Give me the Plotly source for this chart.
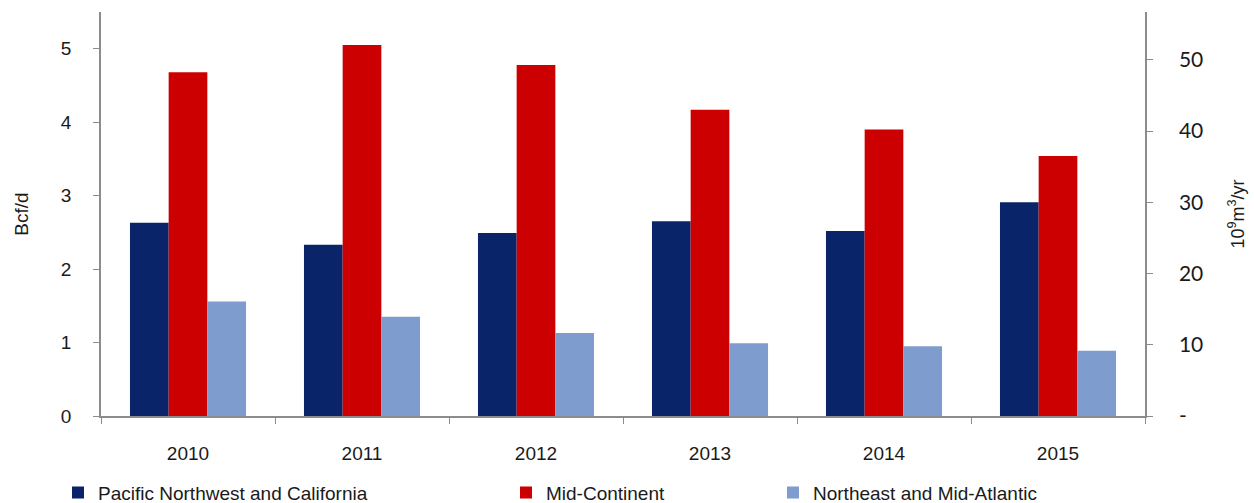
import plotly.graph_objects as go

years = ["2010", "2011", "2012", "2013", "2014", "2015"]
pacific = [2.63, 2.33, 2.49, 2.65, 2.52, 2.91]
mid_continent = [4.68, 5.05, 4.78, 4.17, 3.90, 3.54]
northeast = [1.56, 1.35, 1.13, 0.99, 0.95, 0.89]

left_ticks = [0, 1, 2, 3, 4, 5]
right_tickvals = [0, 10, 20, 30, 40, 50]
right_ticktext = ["-", "10", "20", "30", "40", "50"]
BCFD_TO_BCM = 10.31  # conversion factor between the two axes

ARIAL = "Liberation Sans, Arial, sans-serif"
AXIS_COLOR = "#8c8c8c"
TEXT_COLOR = "#1a1a1a"

fig = go.Figure()
fig.add_trace(go.Bar(x=years, y=pacific, name="Pacific Northwest and California",
                     marker=dict(color="#0a246a", line_width=0), legend="legend"))
fig.add_trace(go.Bar(x=years, y=mid_continent, name="Mid-Continent",
                     marker=dict(color="#cc0000", line_width=0), legend="legend2"))
fig.add_trace(go.Bar(x=years, y=northeast, name="Northeast and Mid-Atlantic",
                     marker=dict(color="#7f9ccf", line_width=0), legend="legend3"))
fig.add_trace(go.Scatter(x=years, y=[None] * len(years), yaxis="y2",
                         showlegend=False, hoverinfo="skip", mode="lines"))

ymax = 5.5
legend_common = dict(orientation="h", yanchor="middle", y=-0.19, xanchor="left",
                     font=dict(family=ARIAL, size=19, color=TEXT_COLOR),
                     bgcolor="rgba(0,0,0,0)", itemwidth=30)

fig.update_layout(
    width=1254, height=503,
    margin=dict(l=101, r=109, t=12, b=87, autoexpand=False),
    paper_bgcolor="white", plot_bgcolor="white",
    barmode="group", bargap=0.333, bargroupgap=0,
    font=dict(family=ARIAL, size=19, color=TEXT_COLOR),
    xaxis=dict(
        type="category", showline=True, linecolor=AXIS_COLOR, linewidth=1.5,
        ticks="outside", tickson="boundaries", ticklen=6, tickcolor=AXIS_COLOR,
        showgrid=False, ticklabelstandoff=19,
        tickfont=dict(family=ARIAL, size=19, color=TEXT_COLOR),
    ),
    yaxis=dict(
        range=[0, ymax], tickvals=left_ticks, showline=True, linecolor=AXIS_COLOR,
        linewidth=1.5, ticks="outside", ticklen=6, tickcolor=AXIS_COLOR,
        showgrid=False, zeroline=False, ticklabelstandoff=18,
        tickfont=dict(family=ARIAL, size=19, color=TEXT_COLOR),
        title=dict(text="Bcf/d", standoff=27, font=dict(family=ARIAL, size=19, color=TEXT_COLOR)),
    ),
    yaxis2=dict(
        overlaying="y", side="right", anchor="x",
        range=[0, ymax * BCFD_TO_BCM], tickvals=right_tickvals, ticktext=right_ticktext,
        showline=True, linecolor=AXIS_COLOR, linewidth=1.5, ticks="outside", ticklen=6,
        tickcolor=AXIS_COLOR, showgrid=False, zeroline=False, ticklabelstandoff=22,
        tickfont=dict(family="Lato, sans-serif", size=21, color=TEXT_COLOR),
        title=dict(text="10<sup>9</sup>m<sup>3</sup>/yr", standoff=29,
                   font=dict(family=ARIAL, size=18, color=TEXT_COLOR)),
    ),
    legend=dict(legend_common, x=(58 - 101) / 1044),
    legend2=dict(legend_common, x=(506 - 101) / 1044),
    legend3=dict(legend_common, x=(773 - 101) / 1044),
    showlegend=True,
)

fig.write_html("out.html")
